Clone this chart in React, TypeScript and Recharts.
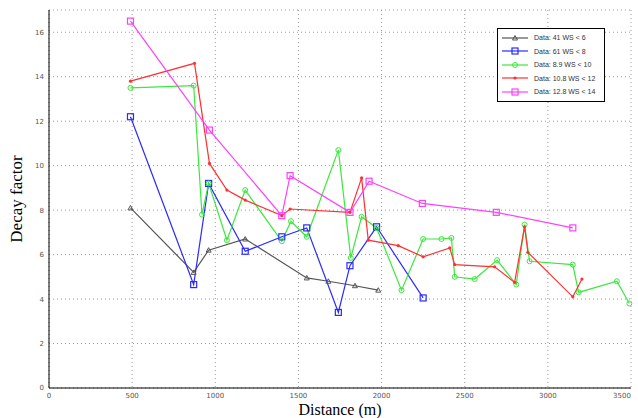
import { LineChart, Line, XAxis, YAxis, CartesianGrid } from 'recharts';

// Distance (m) / decay factor pairs
const ws41 = [
  { x: 490, y: 8.1 }, { x: 870, y: 5.2 }, { x: 960, y: 6.2 }, { x: 1180, y: 6.7 },
  { x: 1550, y: 4.95 }, { x: 1680, y: 4.8 }, { x: 1840, y: 4.6 }, { x: 1980, y: 4.4 },
];

const ws61 = [
  { x: 490, y: 12.2 }, { x: 870, y: 4.65 }, { x: 960, y: 9.2 }, { x: 1180, y: 6.15 },
  { x: 1400, y: 6.8 }, { x: 1550, y: 7.2 }, { x: 1740, y: 3.4 }, { x: 1810, y: 5.5 },
  { x: 1970, y: 7.25 }, { x: 2250, y: 4.05 },
];

const ws89 = [
  { x: 490, y: 13.5 }, { x: 870, y: 13.6 }, { x: 920, y: 7.8 }, { x: 960, y: 9.2 },
  { x: 1070, y: 6.65 }, { x: 1180, y: 8.9 }, { x: 1400, y: 6.6 }, { x: 1455, y: 7.5 },
  { x: 1550, y: 6.8 }, { x: 1740, y: 10.7 }, { x: 1815, y: 5.85 }, { x: 1880, y: 7.7 },
  { x: 1970, y: 7.2 }, { x: 2120, y: 4.4 }, { x: 2250, y: 6.7 }, { x: 2360, y: 6.7 },
  { x: 2420, y: 6.75 }, { x: 2440, y: 5.0 }, { x: 2560, y: 4.9 }, { x: 2695, y: 5.75 },
  { x: 2810, y: 4.65 }, { x: 2860, y: 7.35 }, { x: 2890, y: 5.7 }, { x: 3150, y: 5.55 },
  { x: 3185, y: 4.3 }, { x: 3415, y: 4.8 }, { x: 3490, y: 3.8 },
];

const ws108 = [
  { x: 490, y: 13.8 }, { x: 875, y: 14.6 }, { x: 965, y: 10.1 }, { x: 1070, y: 8.9 },
  { x: 1180, y: 8.45 }, { x: 1400, y: 7.75 }, { x: 1450, y: 8.05 }, { x: 1810, y: 7.9 },
  { x: 1880, y: 9.45 }, { x: 1920, y: 6.65 }, { x: 2100, y: 6.4 }, { x: 2250, y: 5.9 },
  { x: 2410, y: 6.3 }, { x: 2440, y: 5.55 }, { x: 2680, y: 5.45 }, { x: 2800, y: 4.75 },
  { x: 2860, y: 7.25 }, { x: 2880, y: 6.1 }, { x: 3150, y: 4.1 }, { x: 3205, y: 4.9 },
];

const ws128 = [
  { x: 490, y: 16.5 }, { x: 965, y: 11.6 }, { x: 1400, y: 7.75 }, { x: 1450, y: 9.55 },
  { x: 1810, y: 7.9 }, { x: 1925, y: 9.3 }, { x: 2245, y: 8.3 }, { x: 2690, y: 7.9 },
  { x: 3150, y: 7.2 },
];

const xTicks = [0, 500, 1000, 1500, 2000, 2500, 3000, 3500];
const yTicks = [0, 2, 4, 6, 8, 10, 12, 14, 16];

const series = [
  { name: 'Data: 41 WS < 6', data: ws41, color: '#555555', marker: 'tri' },
  { name: 'Data: 61 WS < 8', data: ws61, color: '#2a2aff', marker: 'square' },
  { name: 'Data: 8.9 WS < 10', data: ws89, color: '#3ce83c', marker: 'circle' },
  { name: 'Data: 10.8 WS < 12', data: ws108, color: '#ff3030', marker: 'dot' },
  { name: 'Data: 12.8 WS < 14', data: ws128, color: '#ff40ff', marker: 'square' },
];

const tickStyle = { fontSize: 7, fill: '#555', fontFamily: 'DejaVu Sans' };

// keep the last x label inside the page
const XTick = ({ x, y, payload }: any) => (
  <text x={Math.min(x, 627)} y={y} dy="0.71em" textAnchor="middle" {...tickStyle}>
    {payload.value}
  </text>
);

const Marker = ({ cx, cy, shape, color }: any) => {
  if (shape === 'square') {
    return <rect x={cx - 3} y={cy - 3} width={6} height={6} fill="none" stroke={color} strokeWidth={1.2} />;
  }
  if (shape === 'circle') {
    return <circle cx={cx} cy={cy} r={2.5} fill="none" stroke={color} strokeWidth={1} />;
  }
  if (shape === 'tri') {
    return <path d={`M${cx - 2.5},${cy + 2} L${cx + 2.5},${cy + 2} L${cx},${cy - 2.5} Z`} fill="none" stroke={color} strokeWidth={1} />;
  }
  return <circle cx={cx} cy={cy} r={1.6} fill={color} />;
};

const makeDot = (shape: string, color: string) => (props: any) => (
  <Marker key={`d-${props.index}`} cx={props.cx} cy={props.cy} shape={shape} color={color} />
);

const App = () => {
  return (
    <div style={{ position: 'absolute', left: 0, top: 0, width: 638, height: 418, background: '#fff' }}>
      <LineChart width={638} height={418} margin={{ top: 10, right: 7, left: 0, bottom: 0 }}>
        <CartesianGrid stroke="#999" strokeDasharray="1 3" />
        <XAxis
          type="number"
          dataKey="x"
          domain={[0, 3500]}
          ticks={xTicks}
          tick={<XTick />}
          tickLine={false}
          tickSize={0}
          tickMargin={5}
          axisLine={{ stroke: '#000' }}
          height={30}
          label={{
            content: () => (
              <text x={340} y={415} textAnchor="middle" fontFamily="Liberation Serif" fontSize={16} fill="#000">
                Distance (m)
              </text>
            ),
          }}
        />
        <YAxis
          type="number"
          dataKey="y"
          domain={[0, 17]}
          ticks={yTicks}
          tick={tickStyle}
          tickLine={false}
          tickSize={0}
          tickMargin={5}
          axisLine={{ stroke: '#000' }}
          width={49}
          label={{
            content: () => (
              <text x={22} y={199} transform="rotate(-90 22 199)" textAnchor="middle" fontFamily="Liberation Serif" fontSize={17} fill="#000">
                Decay factor
              </text>
            ),
          }}
        />
        {series.map(s => (
          <Line
            key={s.name}
            data={s.data}
            dataKey="y"
            name={s.name}
            stroke={s.color}
            strokeWidth={1.2}
            dot={makeDot(s.marker, s.color)}
            activeDot={false}
            isAnimationActive={false}
          />
        ))}
      </LineChart>

      {/* legend box */}
      <div
        style={{
          position: 'absolute',
          left: 497,
          top: 28,
          width: 106,
          border: '1px solid #000',
          background: '#fff',
          padding: '2px 0',
          fontFamily: 'Liberation Sans',
          fontSize: 7,
          color: '#333',
          whiteSpace: 'nowrap',
        }}
      >
        {series.map(s => (
          <div key={s.name} style={{ display: 'flex', alignItems: 'center', height: 13.5 }}>
            <svg width={30} height={10} style={{ marginLeft: 3 }}>
              <line x1={1} y1={5} x2={27} y2={5} stroke={s.color} strokeWidth={1.2} />
              <Marker cx={14} cy={5} shape={s.marker} color={s.color} />
            </svg>
            <span style={{ marginLeft: 3 }}>{s.name}</span>
          </div>
        ))}
      </div>
    </div>
  );
};

export default App;
